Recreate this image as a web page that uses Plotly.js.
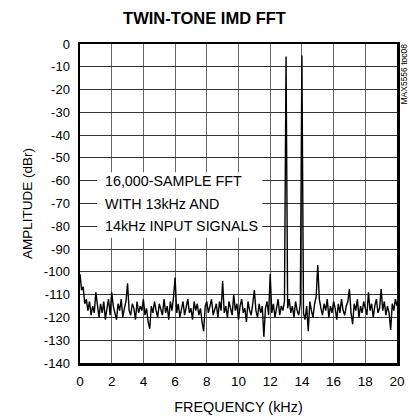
<!DOCTYPE html>
<html>
<head>
<meta charset="utf-8">
<script src="https://cdn.plot.ly/plotly-3.0.1.min.js"></script>
<style>html,body{margin:0;padding:0;background:#fff;}#chart{width:409px;height:418px;}</style>
</head>
<body>
<div id="chart"></div>
<script>
// Frequency step 0.1 kHz from 0 to 20 kHz
const freqStepKHz = 0.1;
const amplitudeDBr = [
  -101, -108, -106.5, -114, -112, -117, -113, -119, -115, -118,
  -109, -116, -120, -114, -118, -113, -121, -116, -112, -119,
  -109, -115, -118, -121, -114, -117, -112, -120, -116, -113,
  -105, -117, -119, -114, -116, -121, -113, -118, -115, -117,
  -112, -119, -116, -122, -125, -115, -118, -113, -117, -120,
  -114, -116, -119, -112, -118, -115, -121, -113, -117, -111,
  -102.5, -118, -114, -120, -116, -113, -119, -115, -112, -118,
  -116, -121, -113, -117, -114, -119, -116, -122, -126, -115,
  -113, -118, -115, -112, -119, -116, -114, -120, -113, -117,
  -104, -118, -115, -120, -113, -116, -119, -110, -117, -114,
  -121, -115, -112, -118, -116, -122, -113, -117, -119, -114,
  -108, -117, -120, -114, -118, -115, -128.5, -116, -113, -119,
  -101, -118, -114, -120, -116, -112, -119, -115, -117, -113,
  -5.5, -116, -112, -118, -115, -120, -113, -117, -119, -114,
  -5, -118, -121, -115, -126, -113, -117, -120, -114, -111,
  -97, -112, -116, -119, -114, -117, -112, -120, -115, -118,
  -113, -116, -121, -114, -118, -112, -117, -119, -115, -113,
  -107.5, -118, -123, -114, -117, -112, -120, -115, -118, -113,
  -116, -119, -109, -117, -114, -120, -115, -112, -118, -116,
  -107.5, -117, -113, -119, -115, -118, -125.5, -114, -117, -112,
  -115
];
const frequencyKHz = amplitudeDBr.map((_, i) => +(i * freqStepKHz).toFixed(2));

const xTickVals = [0, 2, 4, 6, 8, 10, 12, 14, 16, 18, 20];
const yTickVals = [0, -10, -20, -30, -40, -50, -60, -70, -80, -90, -100, -110, -120, -130, -140];
const noteLines = ["16,000-SAMPLE FFT", "WITH 13kHz AND", "14kHz INPUT SIGNALS"];
const noteLevels = [-60, -70, -80];

const FONT = "Liberation Sans, Arial, sans-serif";

const annotations = noteLines.map((t, k) => ({
  x: 1.45, y: noteLevels[k], xref: "x", yref: "y",
  xanchor: "left", yanchor: "middle", showarrow: false,
  text: t, font: {family: FONT, size: 14.3, color: "#000"}
}));
annotations.push({
  x: 1.0, y: 1.0, xref: "paper", yref: "paper", xanchor: "left", yanchor: "top",
  xshift: 0, yshift: 1, showarrow: false, textangle: -90, borderpad: 0,
  text: "MAX5556 toc08", font: {family: FONT, size: 8.5, color: "#000"}
});

const layout = {
  width: 409, height: 418,
  margin: {l: 80, r: 12, t: 44, b: 55},
  paper_bgcolor: "#fff", plot_bgcolor: "#fff",
  showlegend: false,
  title: {text: "<b>TWIN-TONE IMD FFT</b>", x: 0.5, xanchor: "center", y: 0.956, yanchor: "middle",
          font: {family: FONT, size: 16.5, color: "#000"}},
  xaxis: {
    range: [0, 20], tickvals: xTickVals, ticktext: xTickVals.map(String),
    showgrid: true, gridcolor: "#666", gridwidth: 1,
    showline: true, mirror: true, linecolor: "#000", linewidth: 2.5,
    ticks: "", zeroline: false, ticklabelstandoff: 4,
    tickfont: {family: FONT, size: 13.5, color: "#000"},
    title: {text: "FREQUENCY (kHz)", font: {family: FONT, size: 14.4, color: "#000"}, standoff: 14}
  },
  yaxis: {
    range: [-140, 0], tickvals: yTickVals, ticktext: yTickVals.map(String),
    showgrid: true, gridcolor: "#333", gridwidth: 1,
    showline: true, mirror: true, linecolor: "#000", linewidth: 2.5,
    ticks: "", zeroline: false, ticklabelstandoff: 5,
    tickfont: {family: FONT, size: 13, color: "#000"},
    title: {text: "AMPLITUDE (dBr)", font: {family: FONT, size: 13.5, color: "#000"}, standoff: 8}
  },
  shapes: [{
    type: "rect", xref: "x", yref: "y", x0: 1.08, x1: 11.5, y0: -85, y1: -56.3,
    fillcolor: "#fff", line: {width: 0}, layer: "between"
  }],
  annotations: annotations
};

Plotly.newPlot("chart", [{
  type: "scatter", mode: "lines",
  x: frequencyKHz, y: amplitudeDBr,
  line: {color: "#000", width: 1.4}
}], layout, {staticPlot: true, displayModeBar: false});
</script>
</body>
</html>
